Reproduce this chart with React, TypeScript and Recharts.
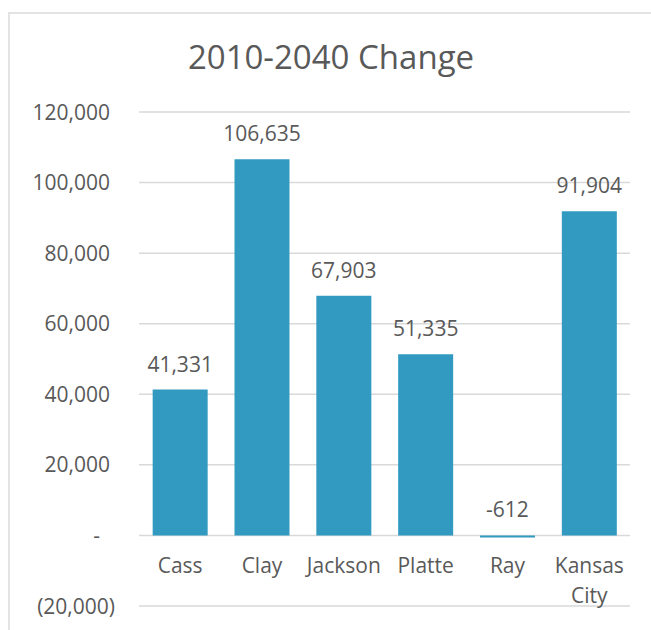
import React from 'react';
import { BarChart, Bar, XAxis, YAxis, CartesianGrid, LabelList } from 'recharts';

const categories = ['Cass', 'Clay', 'Jackson', 'Platte', 'Ray', 'Kansas City'];
const changeValues = [41331, 106635, 67903, 51335, -612, 91904];
const yTicks = [-20000, 0, 20000, 40000, 60000, 80000, 100000, 120000];
const chartTitle = '2010-2040 Change';

const data = categories.map((name, i) => ({ name, value: changeValues[i] }));

const FONT = '"Open Sans", sans-serif';
const TEXT = '#595959';
const BAR = '#329AC0';
const GRID = '#d9d9d9';

const fmt = (v: number) => Math.abs(v).toLocaleString('en-US');

const YTick = (props: any) => {
  const { x, y, payload } = props;
  const v = payload.value;
  let text: string;
  let dx: number;
  if (v === 0) {
    text = '-';
    dx = -39;
  } else if (v < 0) {
    text = `(${fmt(v)})`;
    dx = -24;
  } else {
    text = fmt(v);
    dx = -29;
  }
  return (
    <text x={x + dx} y={y} dy="0.36em" textAnchor="end" fill={TEXT} fontSize={21} fontFamily={FONT}>
      {text}
    </text>
  );
};

const ValueLabel = (props: any) => {
  const { x, y, width, height, value } = props;
  const top = Math.min(y, y + height);
  const v = Number(value);
  return (
    <text x={x + width / 2} y={top - 18} textAnchor="middle" fill={TEXT} fontSize={21} fontFamily={FONT}>
      {v < 0 ? '-' + fmt(v) : fmt(v)}
    </text>
  );
};

const CategoryLabel = (props: any) => {
  const { x, y, width, height, value } = props;
  const idx = categories.indexOf(String(value));
  const v = changeValues[idx] ?? 0;
  const zero = v >= 0 ? Math.max(y, y + height) : Math.min(y, y + height);
  const cx = x + width / 2;
  const lines = String(value).split(' ');
  return (
    <text x={cx} y={zero + 38} textAnchor="middle" fill={TEXT} fontSize={21} fontFamily={FONT}>
      {lines.map((l, i) => (
        <tspan key={i} x={cx} dy={i === 0 ? 0 : 30}>
          {l}
        </tspan>
      ))}
    </text>
  );
};

export default function App() {
  return (
    <div style={{ position: 'absolute', left: 0, top: 0, width: 651, height: 630, overflow: 'hidden', background: '#fff' }}>
      <div
        style={{
          position: 'absolute',
          left: 8,
          top: 12,
          width: 700,
          height: 700,
          border: '2px solid #e3e3e3',
          boxSizing: 'border-box',
        }}
      />
      <div
        style={{
          position: 'absolute',
          left: 0,
          top: 35,
          width: 662,
          textAlign: 'center',
          fontFamily: FONT,
          fontSize: 33,
          color: TEXT,
          lineHeight: '44px',
          whiteSpace: 'nowrap',
        }}
      >
        {chartTitle}
      </div>
      <div style={{ position: 'absolute', left: 0, top: 0 }}>
        <BarChart
          width={651}
          height={630}
          data={data}
          margin={{ top: 112, right: 21, bottom: 24, left: 0 }}
          barCategoryGap="16.7%"
        >
          <CartesianGrid vertical={false} stroke={GRID} strokeWidth={1.5} />
          <XAxis dataKey="name" hide />
          <YAxis
            width={139}
            domain={[-20000, 120000]}
            ticks={yTicks}
            interval={0}
            axisLine={false}
            tickLine={false}
            tickSize={0}
            tickMargin={0}
            tick={<YTick />}
          />
          <Bar dataKey="value" fill={BAR} isAnimationActive={false}>
            <LabelList dataKey="value" content={<ValueLabel />} />
            <LabelList dataKey="name" content={<CategoryLabel />} />
          </Bar>
        </BarChart>
      </div>
    </div>
  );
}
